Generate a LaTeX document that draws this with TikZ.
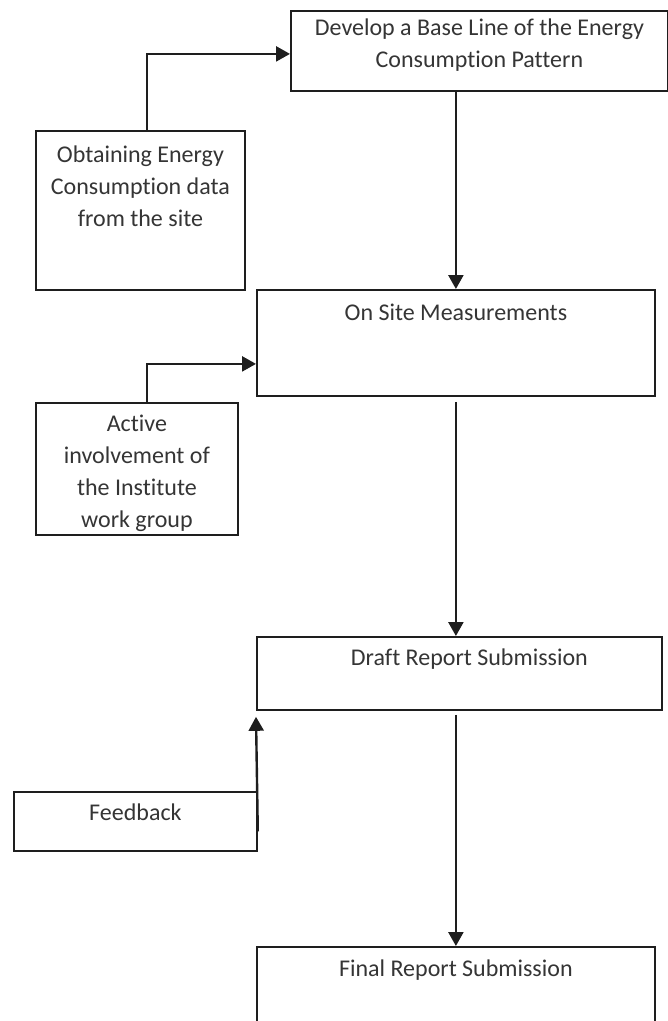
\documentclass[tikz,border=0pt]{standalone}
\usepackage{fontspec}
\setmainfont{Carlito}[Ligatures={NoCommon}]
\usetikzlibrary{arrows.meta,calc}
\definecolor{ink}{HTML}{1E1E1E}
\tikzset{
  boxnode/.style={draw=ink, line width=1.8pt, rectangle, inner sep=0pt, anchor=north west},
  lbl/.style={font=\fontsize{24}{32}\selectfont, text=ink!90, align=center, anchor=north, inner sep=0pt},
  arr/.style={draw=ink, line width=2.4pt, -{Triangle[length=14pt,width=15pt]}}
}
\begin{document}
\begin{tikzpicture}[x=1pt,y=-1pt]
\clip (0,0) rectangle (668,1021);
\fill[white] (0,0) rectangle (668,1021);
% boxes
\node[boxnode, minimum width=377pt, minimum height=80pt] (b1) at (290,10) {};
\node[boxnode, minimum width=209pt, minimum height=159pt] (b2) at (35,130) {};
\node[boxnode, minimum width=398pt, minimum height=106pt] (b3) at (256,289) {};
\node[boxnode, minimum width=202pt, minimum height=132pt] (b4) at (35,402) {};
\node[boxnode, minimum width=405pt, minimum height=73pt] (b5) at (256,636) {};
\node[boxnode, minimum width=243pt, minimum height=59pt] (fb) at (13,791) {};
\node[boxnode, minimum width=398pt, minimum height=120pt] (b6) at (256,946) {};
% texts
\node[lbl] (t1) at ([yshift=-3.3pt]b1.north) {\strut Develop a Base Line of the Energy\\Consumption Pattern};
\node[lbl] (t2) at ([yshift=-10.3pt]b2.north) {\strut Obtaining Energy\\Consumption data\\from the site};
\node[lbl] (t3) at ([yshift=-9.3pt]b3.north) {\strut On Site Measurements};
\node[lbl] (t4) at ([yshift=-7.3pt]b4.north) {\strut Active\\involvement of\\the Institute\\work group};
\node[lbl] (t5) at ([xshift=10pt,yshift=-7.3pt]b5.north) {\strut Draft Report Submission};
\node[lbl] (tf) at ([yshift=-7.3pt]fb.north) {\strut Feedback};
\node[lbl] (t6) at ([yshift=-8.3pt]b6.north) {\strut Final Report Submission};
% connectors
\draw[arr] ([xshift=6.5pt]b2.north) |- ([yshift=-3pt]b1.west);
\draw[arr] (b1.south -| b3.north) -- (b3.north);
\draw[arr] ([xshift=10pt]b4.north) |- ([yshift=-21pt]b3.west);
\draw[arr] ([yshift=-5pt]b3.south) -- (b3.south |- b5.north);
\draw[arr] ([yshift=-10pt]fb.east) -- ([yshift=-6pt]b5.south west);
\draw[arr] ([yshift=-4pt]b5.south -| b6.north) -- (b6.north);
\end{tikzpicture}
\end{document}
